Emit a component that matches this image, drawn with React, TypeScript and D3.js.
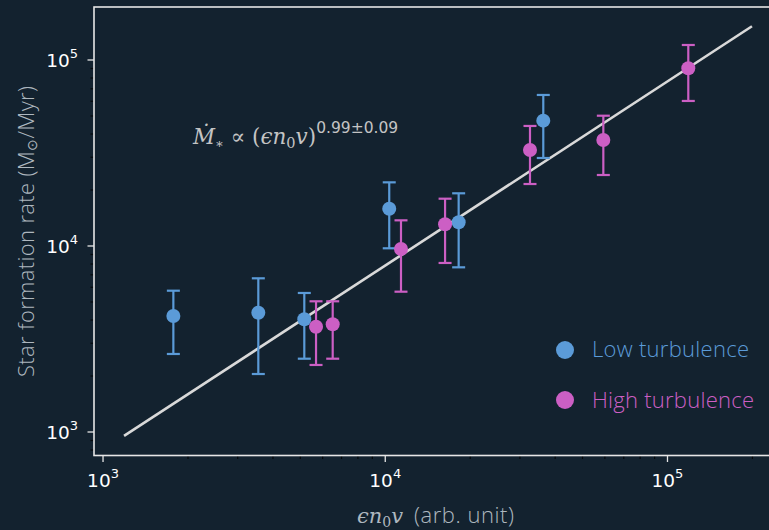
import React from "react";
import * as d3 from "d3";

const lowX = [1775, 3550, 5166, 10330, 18200, 36300];
const lowY = [4205, 4379, 4035, 15870, 13410, 47200];
const lowYLo = [2627, 2050, 2478, 9720, 7680, 29720];
const lowYHi = [5750, 6703, 5590, 21990, 19200, 64860];

const highX = [5685, 6513, 11370, 16290, 32570, 59250, 118500];
const highY = [3683, 3793, 9636, 13090, 32810, 37150, 90250];
const highYLo = [2293, 2478, 5680, 8105, 21540, 24080, 60220];
const highYHi = [5043, 5043, 13740, 17960, 44190, 50170, 120400];

const fitX = [1187, 199200];
const fitCoef = 0.861;
const fitExp = 0.99;

const tickExps = [3, 4, 5];
const seriesNames = ["Low turbulence", "High turbulence"];
const seriesColors = ["#5b9bd8", "#cc5fc4"];
const legendLengths = [157, 162];

const W = 769;
const H = 530;
const BG = "#13222f";
const SANS = "'Open Sans', sans-serif";

export default function App() {
  const x = d3.scaleLog().domain([929, 240400]).range([94, 775]);
  const y = d3.scaleLog().domain([747.6, 192700]).range([455.5, 7]);

  const minorX: number[] = [];
  const minorY: number[] = [];
  for (const d of [100, 1000, 10000, 100000]) {
    for (let m = 2; m <= 9; m++) {
      const v = m * d;
      if (v > x.domain()[0] && v < x.domain()[1]) minorX.push(v);
      if (v > y.domain()[0] && v < y.domain()[1]) minorY.push(v);
    }
  }

  const fitLine = d3
    .line<number>()
    .x((v) => x(v))
    .y((v) => y(fitCoef * Math.pow(v, fitExp)));

  const series = [
    { xs: lowX, ys: lowY, lo: lowYLo, hi: lowYHi, color: seriesColors[0] },
    { xs: highX, ys: highY, lo: highYLo, hi: highYHi, color: seriesColors[1] },
  ];

  const x0 = x.range()[0];
  const yb = y.range()[0];

  return (
    <svg
      width={W}
      height={H}
      style={{ position: "absolute", left: 0, top: 0 }}
      xmlns="http://www.w3.org/2000/svg"
    >
      <rect x={0} y={0} width={W} height={H} fill={BG} />

      {/* minor ticks */}
      {minorX.map((v, i) => (
        <line key={"mx" + i} x1={x(v)} x2={x(v)} y1={yb} y2={yb + 3.5} stroke="#05080b" strokeWidth={1.2} />
      ))}
      {minorY.map((v, i) => (
        <line key={"my" + i} x1={x0} x2={x0 - 3.5} y1={y(v)} y2={y(v)} stroke="#05080b" strokeWidth={1.2} />
      ))}
      {/* major ticks */}
      {tickExps.map((e) => (
        <g key={"tx" + e}>
          <line x1={x(Math.pow(10, e))} x2={x(Math.pow(10, e))} y1={yb} y2={yb + 6.5} stroke="#e6e6e6" strokeWidth={1.3} />
          <text x={x(Math.pow(10, e))} y={487} textAnchor="middle" fontFamily="DejaVu Sans" fontSize={18.5} fill="#ffffff">
            10<tspan fontSize={13} dy={-9}>{e}</tspan>
          </text>
        </g>
      ))}
      {tickExps.map((e) => (
        <g key={"ty" + e}>
          <line x1={x0} x2={x0 - 6.5} y1={y(Math.pow(10, e))} y2={y(Math.pow(10, e))} stroke="#e6e6e6" strokeWidth={1.3} />
          <text x={78} y={y(Math.pow(10, e)) + 7} textAnchor="end" fontFamily="DejaVu Sans" fontSize={18.5} fill="#ffffff">
            10<tspan fontSize={13} dy={-9}>{e}</tspan>
          </text>
        </g>
      ))}

      {/* fit line */}
      <path d={fitLine(fitX) || ""} fill="none" stroke="#d9d9d9" strokeWidth={2.6} />

      {/* data */}
      {series.map((s, si) => (
        <g key={"s" + si}>
          {s.xs.map((xv, i) => {
            const cx = x(xv);
            return (
              <g key={i}>
                <line x1={cx} x2={cx} y1={y(s.lo[i])} y2={y(s.hi[i])} stroke={s.color} strokeWidth={2.2} />
                <line x1={cx - 6.5} x2={cx + 6.5} y1={y(s.lo[i])} y2={y(s.lo[i])} stroke={s.color} strokeWidth={2.2} />
                <line x1={cx - 6.5} x2={cx + 6.5} y1={y(s.hi[i])} y2={y(s.hi[i])} stroke={s.color} strokeWidth={2.2} />
                <circle cx={cx} cy={y(s.ys[i])} r={7} fill={s.color} />
              </g>
            );
          })}
        </g>
      ))}

      {/* frame */}
      <rect x={94} y={7} width={681} height={448.5} fill="none" stroke="#e6e6e6" strokeWidth={1.6} />

      {/* annotation */}
      <text x={193} y={144} fontFamily="DejaVu Serif" fontSize={21.5} fill="#c4c4c4">
        <tspan fontStyle="italic">Ṁ</tspan>
        <tspan fontSize={13} dy={4}>∗</tspan>
        <tspan dy={-4}>{" \u221D ("}</tspan>
        <tspan fontStyle="italic">ϵn</tspan>
        <tspan fontSize={14.5} dy={4}>0</tspan>
        <tspan dy={-4} fontStyle="italic">v</tspan>
        <tspan>)</tspan>
        <tspan fontFamily="DejaVu Sans" fontSize={15.5} dy={-11}>0.99±0.09</tspan>
      </text>

      {/* legend */}
      {seriesNames.map((n, i) => (
        <g key={"lg" + i}>
          <circle cx={565} cy={350 + i * 50} r={9} fill={seriesColors[i]} />
          <text
            x={592}
            y={357 + i * 51}
            fontFamily={SANS}
            fontWeight={300}
            fontSize={22}
            fill={seriesColors[i]}
            textLength={legendLengths[i]}
            lengthAdjust="spacing"
          >
            {n}
          </text>
        </g>
      ))}

      {/* axis labels */}
      <text x={357} y={523} fontSize={21} fill="#aeb7bf" fontFamily="DejaVu Serif">
        <tspan fontStyle="italic">ϵn</tspan>
        <tspan fontSize={14} dy={4}>0</tspan>
        <tspan fontStyle="italic" dy={-4}>v</tspan>
      </text>
      <text x={414} y={523} fontSize={22} fill="#aeb7bf" fontFamily={SANS} fontWeight={300} textLength={100} lengthAdjust="spacing">
        (arb. unit)
      </text>
      <text
        transform="translate(34,231.5) rotate(-90)"
        textAnchor="middle"
        fontFamily={SANS}
        fontWeight={300}
        fontSize={22}
        fill="#aeb7bf"
        textLength={291}
        lengthAdjust="spacing"
      >
        Star formation rate (M<tspan fontSize={14} dy={3}>⊙</tspan>
        <tspan dy={-3}>/Myr)</tspan>
      </text>
    </svg>
  );
}
